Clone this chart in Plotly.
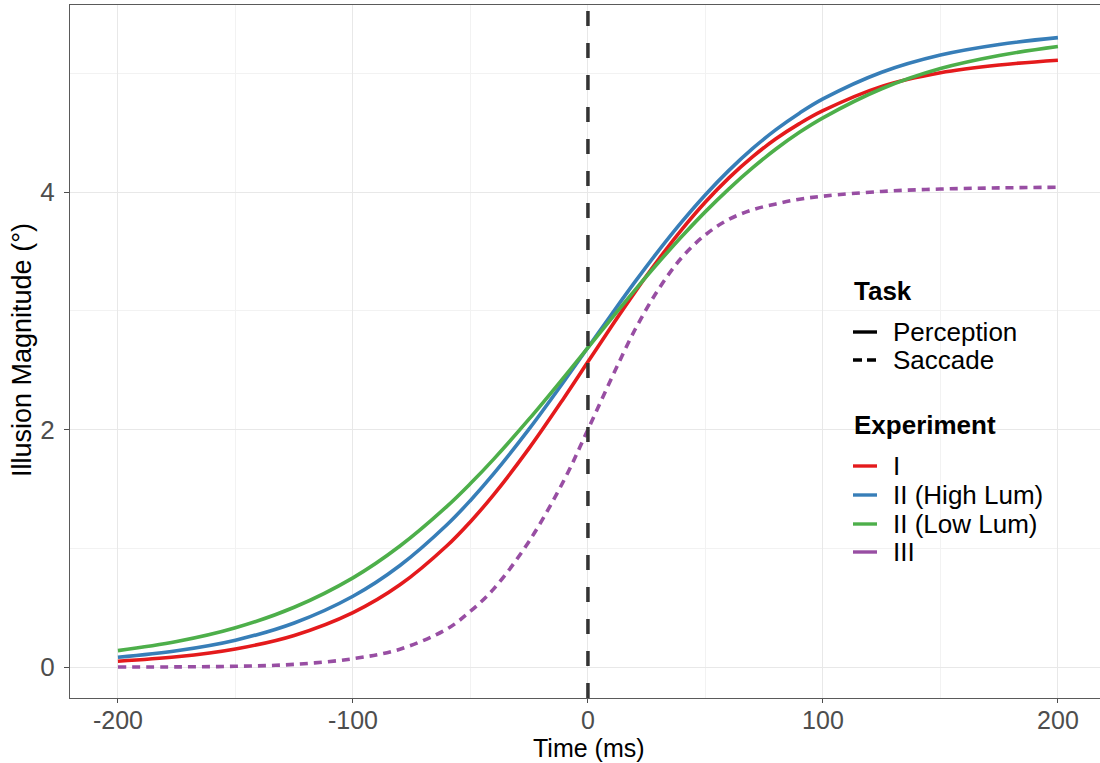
import plotly.graph_objects as go

# ---- data ----
time_ms = [-200, -175, -150, -125, -100, -80, -60, -50, -40, -25, -10, 0, 10, 20,
           30, 40, 50, 60, 70, 80, 90, 100, 125, 150, 175, 200]

exp_I = [0.049, 0.086, 0.152, 0.266, 0.458, 0.692, 1.021, 1.224, 1.454, 1.843, 2.272, 2.57, 2.868, 3.157,
         3.432, 3.686, 3.916, 4.119, 4.296, 4.448, 4.576, 4.685, 4.89, 5.005, 5.07, 5.11]
exp_II_high = [0.082, 0.137, 0.226, 0.371, 0.596, 0.855, 1.198, 1.403, 1.630, 2.005, 2.411, 2.69, 2.969, 3.243,
               3.504, 3.750, 3.977, 4.182, 4.365, 4.525, 4.664, 4.784, 5.009, 5.154, 5.243, 5.30]
exp_II_low = [0.138, 0.214, 0.330, 0.503, 0.751, 1.019, 1.353, 1.545, 1.753, 2.089, 2.446, 2.69, 2.934, 3.174,
              3.406, 3.627, 3.835, 4.027, 4.203, 4.362, 4.503, 4.625, 4.87, 5.04, 5.15, 5.225]
exp_III = [0.0, 0.001, 0.006, 0.022, 0.07, 0.15, 0.32, 0.47, 0.66, 1.06, 1.58, 2.0, 2.43, 2.84,
           3.18, 3.45, 3.64, 3.77, 3.85, 3.90, 3.94, 3.965, 4.005, 4.025, 4.035, 4.04]

series_names = ["I", "II (High Lum)", "II (Low Lum)", "III"]
series_values = [exp_I, exp_II_high, exp_II_low, exp_III]
series_task = ["Perception", "Perception", "Perception", "Saccade"]
task_names = ["Perception", "Saccade"]

x_ticks = [-200, -100, 0, 100, 200]
y_ticks = [0, 2, 4]

# ---- styling ----
colors = {"I": "#E41A1C", "II (High Lum)": "#377EB8", "II (Low Lum)": "#4DAF4A", "III": "#984EA3"}
dashes = {"Perception": "solid", "Saccade": "8px,6px"}
FONT = "Liberation Sans, Arial, sans-serif"

W, H = 1100, 763
L, R, T, B = 70, 0, 5, 65
PW, PH = W - L - R, H - T - B


def px_to_paper(px, py):
    return (px - L) / PW, (H - B - py) / PH


fig = go.Figure()

for name, vals, task in zip(series_names, series_values, series_task):
    fig.add_trace(go.Scatter(
        x=time_ms, y=vals, mode="lines", name=name,
        line=dict(color=colors[name], width=3.6, dash=dashes[task], shape="spline", smoothing=1.0),
        showlegend=False,
    ))

# vertical dashed line at saccade onset
fig.add_shape(type="line", xref="x", yref="paper", x0=0, x1=0, y0=0, y1=1,
              line=dict(color="#333333", width=3.5, dash="15px,17px"), layer="above")

# ---- manual legend (ggplot style) ----
annotations = []
shapes = []


def add_title(text, py):
    xp, yp = px_to_paper(852, py)
    annotations.append(dict(text="<b>%s</b>" % text, x=xp, y=yp, xref="paper", yref="paper",
                            xanchor="left", yanchor="middle", showarrow=False,
                            font=dict(family=FONT, size=26, color="black")))


def add_item(text, py, color, dash):
    xp, yp = px_to_paper(891, py)
    annotations.append(dict(text=text, x=xp, y=yp, xref="paper", yref="paper",
                            xanchor="left", yanchor="middle", showarrow=False,
                            font=dict(family=FONT, size=26, color="black")))
    x0, y0 = px_to_paper(853, py)
    x1, _ = px_to_paper(877, py)
    shapes.append(dict(type="line", xref="paper", yref="paper", x0=x0, x1=x1, y0=y0, y1=y0,
                       line=dict(color=color, width=3.4, dash=dash)))


add_title("Task", 291)
add_item(task_names[0], 332, "black", "solid")
add_item(task_names[1], 360, "black", "9px,5px")
add_title("Experiment", 425)
for name, py in zip(series_names, [466, 495, 524, 552]):
    add_item(name, py, colors[name], "solid")

for s in shapes:
    fig.add_shape(**s)

# axis titles
xt_x, xt_y = px_to_paper(589, 748)
annotations.append(dict(text="Time (ms)", x=xt_x, y=xt_y, xref="paper", yref="paper",
                        xanchor="center", yanchor="middle", showarrow=False,
                        font=dict(family=FONT, size=25, color="black")))
yt_x, yt_y = px_to_paper(22, 350)
annotations.append(dict(text="Illusion Magnitude (°)", x=yt_x, y=yt_y, xref="paper", yref="paper",
                        xanchor="center", yanchor="middle", showarrow=False, textangle=-90,
                        font=dict(family=FONT, size=27, color="black")))

fig.update_layout(
    width=W, height=H,
    margin=dict(l=L, r=R, t=T, b=B, autoexpand=False),
    paper_bgcolor="white", plot_bgcolor="white",
    font=dict(family=FONT, color="black"),
    annotations=annotations,
    showlegend=False,
)

fig.update_xaxes(
    range=[-220.4, 217.9], tickvals=x_ticks, ticktext=[str(v) for v in x_ticks],
    showgrid=True, gridcolor="#e8e8e8", gridwidth=1.1,
    minor=dict(dtick=50, tick0=-200, showgrid=True, gridcolor="#f2f2f2", gridwidth=0.8),
    zeroline=False, showline=True, linecolor="#5a5a5a", linewidth=1.3, mirror=True,
    ticks="outside", ticklen=4, tickcolor="#4d4d4d", tickwidth=1,
    tickfont=dict(family=FONT, size=25, color="#4d4d4d"),
    ticklabelstandoff=-4,
    automargin=False,
)
fig.update_yaxes(
    range=[-0.261, 5.575], tickvals=y_ticks, ticktext=[str(v) for v in y_ticks],
    showgrid=True, gridcolor="#e8e8e8", gridwidth=1.1,
    minor=dict(dtick=1, tick0=0, showgrid=True, gridcolor="#f2f2f2", gridwidth=0.8),
    zeroline=False, showline=True, linecolor="#5a5a5a", linewidth=1.3, mirror=False,
    ticks="outside", ticklen=5, tickcolor="#4d4d4d", tickwidth=1,
    tickfont=dict(family=FONT, size=26, color="#4d4d4d"),
    ticklabelstandoff=4,
    automargin=False,
)

fig.write_html(
    "out.html",
    config={"displayModeBar": False},
    post_script="document.body.style.margin='0';document.body.style.overflow='hidden';",
)
